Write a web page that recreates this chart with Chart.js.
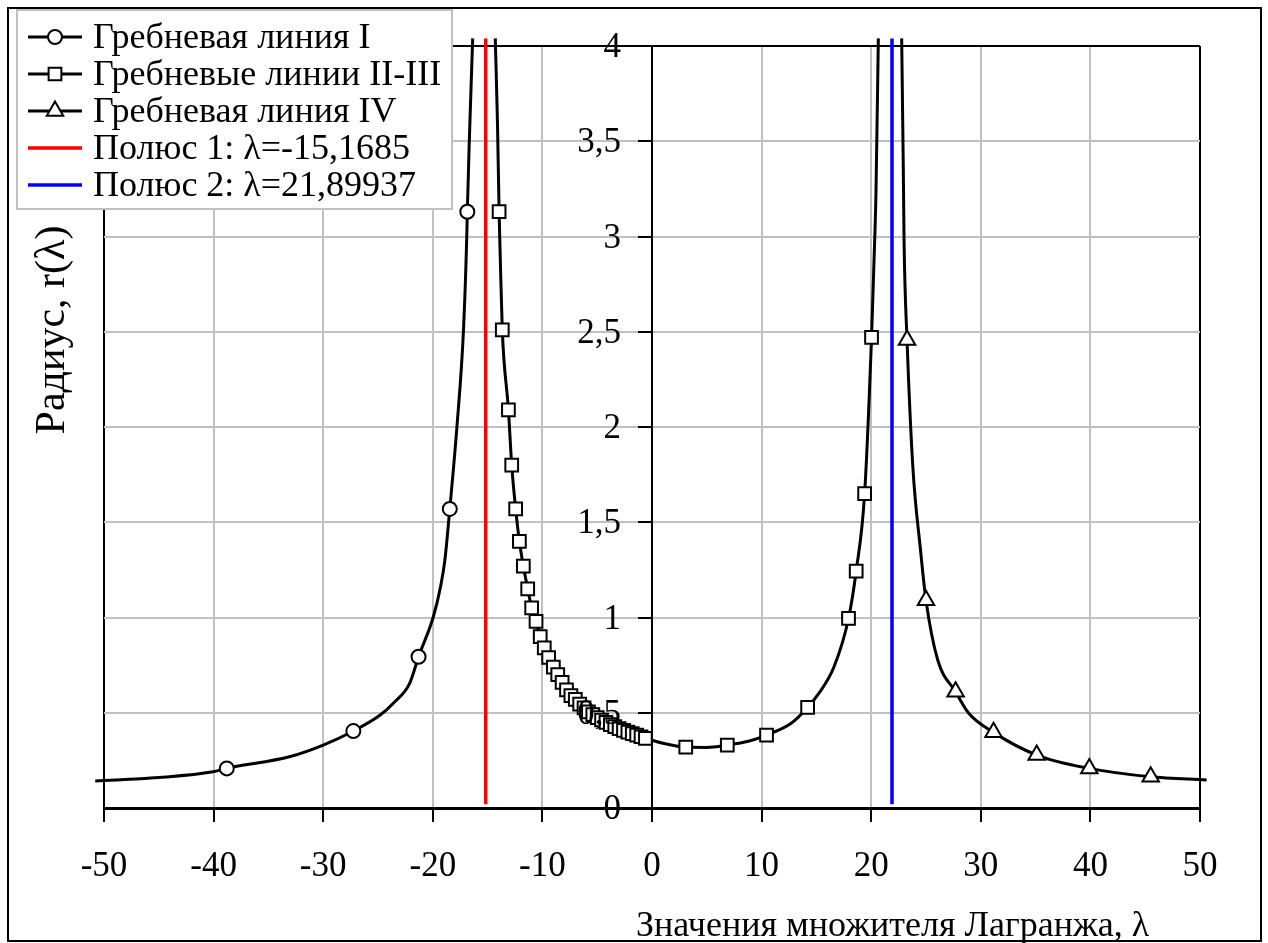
<!DOCTYPE html>
<html lang="ru">
<head>
<meta charset="utf-8">
<title>Гребневые линии</title>
<script src="https://cdn.jsdelivr.net/npm/chart.js@4.4.1/dist/chart.umd.min.js"></script>
<style>
  html, body { margin: 0; padding: 0; background: #fff; overflow: hidden; }
  #wrap { position: relative; width: 1268px; height: 943px; }
</style>
</head>
<body>
<div id="wrap"><canvas id="ridge-chart"></canvas></div>
<script>
// --- данные ---
// гребневая линия I (кружки); mark = 1 -> точка с маркером
const ridge1X    = [-50.8, -45, -40.05, -38.8, -33, -30, -27.25, -24.8, -23.6, -22.1, -21.3, -19.95, -19.3, -18.9, -18.45, -17.8, -17.2, -16.9, -16.85, -16.67, -16.36];
const ridge1Y    = [0.142, 0.16, 0.19, 0.208, 0.27, 0.33, 0.404, 0.488, 0.55, 0.656, 0.794, 1.004, 1.16, 1.30, 1.57, 2.0, 2.51, 3.0, 3.13, 3.5, 4.04];
const ridge1Mark = [0, 0, 0, 1, 0, 0, 1, 0, 0, 0, 1, 0, 0, 0, 1, 0, 0, 0, 1, 0, 0];

// гребневые линии II-III (квадраты)
const ridge23X = [-14.3, -14.1, -13.95, -13.85, -13.66, -13.1, -12.8, -12.44, -12.1, -11.74, -11.34, -10.98, -10.58, -10.2,
  -9.83, -9.43, -9.0, -8.6, -8.2, -7.8, -7.4, -7.0, -6.6, -6.2, -5.8, -5.4, -5.0, -4.6, -4.2, -3.8, -3.4, -3.0, -2.6,
  -2.2, -1.8, -1.4, -1.0, -0.6, 1.0, 3.08, 5.0, 6.87, 8.8, 10.45, 12.7, 14.2, 15.2, 16.6, 17.93, 18.63, 19.4, 20.03,
  20.25, 20.44, 20.65];
const ridge23Y = [4.04, 3.6, 3.13, 2.9, 2.51, 2.09, 1.80, 1.57, 1.40, 1.27, 1.15, 1.05, 0.98, 0.90,
  0.84, 0.79, 0.74, 0.70, 0.66, 0.62, 0.59, 0.57, 0.545, 0.525, 0.505, 0.49, 0.475, 0.462, 0.45, 0.438, 0.427, 0.417, 0.407,
  0.398, 0.39, 0.382, 0.374, 0.366, 0.34, 0.32, 0.318, 0.33, 0.35, 0.383, 0.445, 0.528, 0.60, 0.74, 0.995, 1.244, 1.65, 2.47,
  2.86, 3.24, 4.04];
const ridge23Mark = [0, 0, 1, 0, 1, 1, 1, 1, 1, 1, 1, 1, 1, 1,
  1, 1, 1, 1, 1, 1, 1, 1, 1, 1, 1, 1, 1, 1, 1, 1, 1, 1, 1,
  1, 1, 1, 1, 1, 0, 1, 0, 1, 0, 1, 0, 1, 0, 0, 1, 1, 1, 1,
  0, 0, 0];

// гребневая линия IV (треугольники)
const ridge4X    = [22.78, 22.93, 23.0, 23.27, 23.8, 24.5, 25.0, 26.07, 27.7, 28.9, 31.16, 35.1, 39.9, 45.5, 50.6];
const ridge4Y    = [4.04, 3.35, 2.97, 2.457, 1.79, 1.354, 1.09, 0.777, 0.61, 0.497, 0.397, 0.278, 0.208, 0.164, 0.147];
const ridge4Mark = [0, 0, 0, 1, 0, 0, 1, 0, 1, 0, 1, 1, 1, 1, 0];

// полюса
const poleX = [-15.1685, 21.89937];
const poleY = [0.02, 4.04];

const seriesLabels = [
  "Гребневая линия I",
  "Гребневые линии II-III",
  "Гребневая линия IV",
  "Полюс 1: λ=-15,1685",
  "Полюс 2: λ=21,89937",
];
const yTickLabels = ["0", "0,5", "1", "1,5", "2", "2,5", "3", "3,5", "4"];
const xTitle = "Значения множителя Лагранжа, λ";
const yTitle = "Радиус, r(λ)";

const SERIF = "'Liberation Serif', 'Times New Roman', serif";

function pts(xs, ys) {
  return xs.map((x, i) => ({ x, y: ys[i] }));
}

function ridge(label, xs, ys, marks, style, radius) {
  return {
    label,
    data: pts(xs, ys),
    borderColor: "#000",
    borderWidth: 3,
    backgroundColor: "#fff",
    pointStyle: style,
    pointRadius: (c) => (marks[c.dataIndex] ? radius : 0),
    pointBorderWidth: 2,
    pointBorderColor: "#000",
    pointBackgroundColor: "#fff",
    cubicInterpolationMode: "monotone",
    clip: false,
    legendRadius: radius,
  };
}

function pole(label, x, color) {
  return {
    label,
    data: pts([x, x], poleY),
    borderColor: color,
    borderWidth: 3.5,
    pointRadius: 0,
    clip: false,
    pointStyle: false,
  };
}

// рамка, подписи оси Y, подписи осей и легенда
const decorPlugin = {
  id: "decor",
  beforeDraw(chart) {
    const { ctx, width, height } = chart;
    ctx.save();
    ctx.fillStyle = "#fff";
    ctx.fillRect(0, 0, width, height);
    ctx.restore();
  },
  afterDraw(chart) {
    const { ctx, scales } = chart;
    ctx.save();

    // внешняя рамка
    ctx.strokeStyle = "#000";
    ctx.lineWidth = 2;
    ctx.strokeRect(8, 8, 1253, 933);

    // подписи делений оси Y (ось стоит на λ = 0, подписи слева от неё)
    const axisX = scales.x.getPixelForValue(0);
    ctx.fillStyle = "#000";
    ctx.font = "35px " + SERIF;
    ctx.textAlign = "right";
    ctx.textBaseline = "middle";
    scales.y.ticks.forEach((t) => {
      ctx.fillText(yTickLabels[Math.round(t.value * 2)], axisX - 31, scales.y.getPixelForValue(t.value) + 2);
    });

    // подписи осей
    ctx.font = "36px " + SERIF;
    ctx.textBaseline = "alphabetic";
    ctx.textAlign = "left";
    ctx.fillText(xTitle, 636, 936);

    ctx.save();
    ctx.translate(64, 330);
    ctx.rotate(-Math.PI / 2);
    ctx.textAlign = "center";
    ctx.font = "42px " + SERIF;
    ctx.fillText(yTitle, 0, 0);
    ctx.restore();

    // легенда
    const box = { x: 17, y: 10, w: 435, h: 199 };
    ctx.fillStyle = "#fff";
    ctx.fillRect(box.x, box.y, box.w, box.h);
    ctx.strokeStyle = "#c0c0c0";
    ctx.lineWidth = 2;
    ctx.strokeRect(box.x, box.y, box.w, box.h);

    ctx.font = "36px " + SERIF;
    ctx.textBaseline = "middle";
    chart.data.datasets.forEach((ds, i) => {
      const y = 37 + i * 37;
      ctx.strokeStyle = ds.borderColor;
      ctx.lineWidth = ds.borderWidth;
      ctx.beginPath();
      ctx.moveTo(28, y);
      ctx.lineTo(82, y);
      ctx.stroke();
      if (ds.pointStyle) {
        ctx.fillStyle = "#fff";
        ctx.strokeStyle = "#000";
        ctx.lineWidth = 2;
        Chart.helpers.drawPoint(ctx, {
          pointStyle: ds.pointStyle,
          radius: ds.legendRadius,
          rotation: 0,
          borderWidth: 2,
        }, 55, y);
      }
      ctx.fillStyle = "#000";
      ctx.textAlign = "left";
      ctx.fillText(ds.label, 93, y + 2);
    });

    ctx.restore();
  },
};

const ctx = document.getElementById("ridge-chart").getContext("2d");

new Chart(ctx, {
  type: "line",
  data: {
    datasets: [
      ridge(seriesLabels[0], ridge1X, ridge1Y, ridge1Mark, "circle", 7),
      ridge(seriesLabels[1], ridge23X, ridge23Y, ridge23Mark, "rect", 9),
      ridge(seriesLabels[2], ridge4X, ridge4Y, ridge4Mark, "triangle", 9.5),
      pole(seriesLabels[3], poleX[0], "#ff0000"),
      pole(seriesLabels[4], poleX[1], "#0000ff"),
    ],
  },
  options: {
    responsive: true,
    maintainAspectRatio: false,
    animation: false,
    layout: { padding: { left: 104, right: 68, top: 46, bottom: 0 } },
    plugins: {
      legend: { display: false },
      tooltip: { enabled: false },
    },
    scales: {
      x: {
        type: "linear",
        min: -50,
        max: 50,
        afterFit: (s) => { s.height = 135; },
        ticks: {
          stepSize: 10,
          autoSkip: false,
          maxRotation: 0,
          padding: 24,
          color: "#000",
          font: { family: SERIF, size: 35 },
          callback: (v) => String(v),
        },
        grid: {
          color: (c) => (c.tick && Math.abs(c.tick.value) === 50 ? "#000" : "#c0c0c0"),
          lineWidth: 2,
          tickColor: "#000",
          tickLength: 14,
          tickWidth: 2,
        },
        border: { color: "#000", width: 3 },
      },
      y: {
        type: "linear",
        min: 0,
        max: 4,
        position: { x: 0 },
        ticks: {
          stepSize: 0.5,
          display: false,
        },
        grid: {
          color: (c) => (c.tick && c.tick.value === 4 ? "#000" : "#c0c0c0"),
          lineWidth: 2,
          tickColor: "#000",
          tickLength: 13,
          tickWidth: 2,
        },
        border: { color: "#000", width: 2 },
      },
    },
  },
  plugins: [decorPlugin],
});
</script>
</body>
</html>
